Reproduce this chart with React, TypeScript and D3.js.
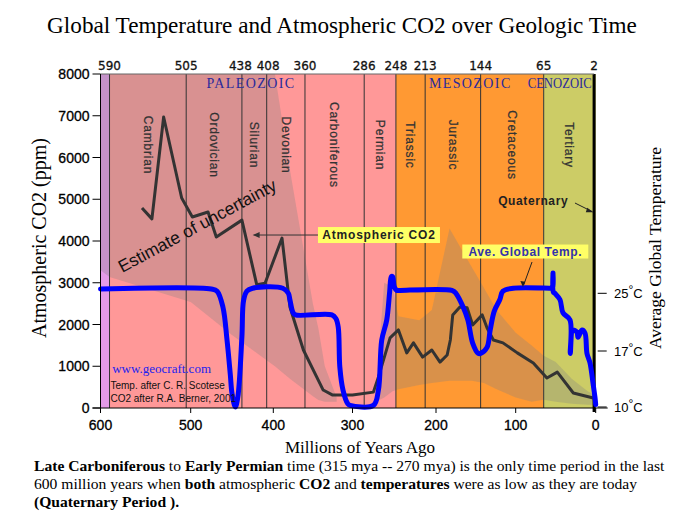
import React from 'react';
import * as d3 from 'd3';

const W = 700;
const H = 521;

// ---------- data ----------
const xTickValues = [600, 500, 400, 300, 200, 100, 0];
const co2TickValues = [0, 1000, 2000, 3000, 4000, 5000, 6000, 7000, 8000];
const tempTickValues = [10, 17, 25];

const topBoundaryLabels = [590, 505, 438, 408, 360, 286, 248, 213, 144, 65, 2];
const periodBoundaries = [590, 505, 438, 408, 360, 286, 248, 213, 144, 65];
const periodNames = ['Cambrian', 'Ordovician', 'Silurian', 'Devonian', 'Carboniferous', 'Permian', 'Triassic', 'Jurassic', 'Cretaceous', 'Tertiary'];
const periodStart = [590, 505, 438, 408, 360, 286, 248, 213, 144, 65];
const periodEnd = [505, 438, 408, 360, 286, 248, 213, 144, 65, 2];

const eraNames = ['PALEOZOIC', 'MESOZOIC', 'CENOZOIC'];
const eraLabelAges = [427, 157, 45];
const bgStart = [600, 590, 248, 65];
const bgEnd = [590, 248, 65, 0];
const bgColors = ['#e39ae8', '#ff9898', '#ff9933', '#cccc66'];

const co2Ages = [554, 543, 530, 510, 498, 479, 469, 438, 420, 410, 389, 379, 362, 337, 325, 300, 275, 269, 255, 245, 235, 227, 216, 205, 195, 186, 182, 179, 170, 161, 154, 142, 136, 128, 116, 98, 78, 61, 48, 28, 3, 0];
const co2Values = [4790, 4530, 6970, 5030, 4575, 4695, 4095, 4500, 2950, 2990, 4070, 2420, 1390, 430, 310, 310, 380, 740, 1680, 1870, 1320, 1560, 1220, 1390, 1100, 1270, 1630, 2230, 2420, 2400, 1990, 2230, 1920, 1630, 1560, 1320, 1080, 720, 860, 360, 240, 240];

const tempAges = [600, 475, 468, 461, 456, 452, 450, 446, 443, 438, 436, 432, 425, 388, 381, 379, 375, 372, 326, 321, 318, 316, 312, 306, 303, 275, 269, 265, 259, 255.5, 253.5, 252, 250, 247, 243, 180, 175, 166, 160, 154, 147, 144, 136, 132, 127, 120, 116, 103, 57, 54, 53.4, 53, 51, 44.6, 40.9, 32.1, 31.8, 28.4, 23.4, 22.1, 17.1, 13.4, 10.9, 7.1, 3.4, 0.9, 0];
const tempValues = [25.6, 25.6, 25.3, 23.1, 18.5, 14, 11.7, 10, 11.2, 19, 24, 25.3, 25.7, 25.7, 25, 24.1, 22.3, 22.0, 22.0, 21.5, 20.3, 15, 12.1, 10.4, 10.2, 10.2, 12.1, 18.5, 21.3, 25.2, 27.3, 27.3, 25.9, 25.4, 25.4, 25.4, 25.0, 23.1, 21.3, 18.1, 16.7, 16.7, 17.5, 19.9, 22.5, 24.1, 25.3, 25.7, 25.7, 25.7, 27.8, 25.2, 25.0, 24.1, 22.3, 21.3, 16.7, 19.9, 19.6, 18.9, 19.9, 19.5, 16.7, 15.5, 13.0, 11.2, 10.3];

const paleoBandAges = [600, 590, 500, 450, 398, 379, 350, 343, 335, 320];
const paleoBandUpper = [8000, 8000, 8000, 8000, 8000, 5700, 2500, 1900, 1000, 250];
const paleoBandLower = [3300, 3140, 2540, 1750, 1000, 700, 280, 190, 150, 150];

const mesoBandAges = [272, 262, 252, 245, 220, 205, 183, 155, 140, 124, 100, 80, 65, 50, 30, 10, 0];
const mesoBandUpper = [400, 3000, 2900, 2200, 2100, 2350, 4300, 3370, 2880, 2350, 1800, 1500, 1250, 1100, 700, 400, 300];
const mesoBandLower = [150, 250, 400, 450, 550, 600, 650, 650, 600, 450, 250, 150, 200, 150, 100, 80, 80];

const titleText = 'Global Temperature and Atmospheric CO2 over Geologic Time';

// ---------- scales ----------
const x = d3.scaleLinear().domain(xTickValues).range([100.5, 190.7, 273.3, 352.5, 436, 515.7, 595.7]);
const y = d3.scaleLinear().domain([0, 8000]).range([408, 74]);
const yT = d3.scaleLinear().domain(tempTickValues).range([407, 351, 293.3]);

const SANS = 'Liberation Sans, Arial, sans-serif';
const SERIF = 'Liberation Serif, Times New Roman, serif';
const DV = 'DejaVu Sans, Verdana, sans-serif';

export default function App() {
  const co2Line = d3.line<number>().x((_, i) => x(co2Ages[i])).y((_, i) => y(co2Values[i]))(co2Ages) || '';
  const tempLine = d3
    .line<number>()
    .x((_, i) => x(tempAges[i]))
    .y((_, i) => yT(tempValues[i]))
    .curve(d3.curveCatmullRom.alpha(0.5))(tempAges) || '';
  const paleoArea = d3
    .area<number>()
    .x((_, i) => x(paleoBandAges[i]))
    .y0((_, i) => y(paleoBandLower[i]))
    .y1((_, i) => y(paleoBandUpper[i]))(paleoBandAges) || '';
  const mesoArea = d3
    .area<number>()
    .x((_, i) => x(mesoBandAges[i]))
    .y0((_, i) => y(mesoBandLower[i]))
    .y1((_, i) => y(mesoBandUpper[i]))(mesoBandAges) || '';

  const top = y(8000);
  const bottom = y(0);

  const co2LabX = x(343.6), co2LabY = y(4143), co2TipX = x(425);
  const tmpLabX = x(167), tmpLabY = y(3748);

  return (
    <svg width={W} height={H} style={{ position: 'absolute', left: 0, top: 0, background: '#fff' }}>
      <text x={342} y={33} textAnchor="middle" fontFamily={SERIF} fontSize={23.2} fill="#000">{titleText}</text>

      {bgStart.map((s, i) => (
        <rect key={'bg' + i} x={x(s)} y={top} width={x(bgEnd[i]) - x(s)} height={bottom - top} fill={bgColors[i]} />
      ))}
      <path d={paleoArea} fill="#808080" fillOpacity={0.3} />
      <path d={mesoArea} fill="#808080" fillOpacity={0.3} />

      {periodBoundaries.map((b) => (
        <line key={'pl' + b} x1={x(b)} x2={x(b)} y1={top} y2={bottom} stroke="#333" strokeWidth={1} />
      ))}
      <line x1={x(2)} x2={x(2)} y1={top} y2={bottom + 4} stroke="#000" strokeWidth={3} />
      <line x1={x(600)} x2={x(2)} y1={top} y2={top} stroke="#666" strokeWidth={1} />

      {topBoundaryLabels.map((b) => (
        <text key={'tl' + b} x={x(b) + (b === 438 ? -1.5 : b === 408 ? 1.5 : 0)} y={70} textAnchor="middle" fontFamily={DV} fontSize={12} stroke="#111" strokeWidth={0.3} fill="#111">{b}</text>
      ))}
      {eraNames.map((n, i) => (
        <text key={n} x={x(eraLabelAges[i])} y={88} textAnchor="middle" fontFamily={SERIF} fontSize={14} letterSpacing={i === 2 ? 0 : 1.4} fill="#2a2a9c"
          {...(i === 2 ? { textLength: 64, lengthAdjust: 'spacingAndGlyphs' } : {})}>{n}</text>
      ))}
      {periodNames.map((n, i) => {
        const cx = (x(periodStart[i]) + x(periodEnd[i])) / 2;
        return (
          <text key={n} transform={`translate(${cx},145) rotate(90)`} textAnchor="middle" dy="0.35em" fontFamily={SANS} fontSize={12} letterSpacing={0.8} stroke="#333" strokeWidth={0.25} fill="#333">{n}</text>
        );
      })}

      <path d={co2Line} fill="none" stroke="#333" strokeWidth={3} strokeLinejoin="round" />
      <path d={tempLine} fill="none" stroke="#0000ff" strokeWidth={5} strokeLinejoin="round" strokeLinecap="round" />

      <line x1={x(600)} x2={x(600)} y1={top} y2={bottom + 5} stroke="#000" />
      {co2TickValues.map((v) => (
        <g key={'ct' + v}>
          <line x1={x(600) - 8} x2={x(600)} y1={y(v)} y2={y(v)} stroke="#000" />
          <text x={x(600) - 11} y={y(v)} dy="0.36em" textAnchor="end" fontFamily={SANS} fontSize={14} stroke="#000" strokeWidth={0.3} fill="#000">{v}</text>
        </g>
      ))}
      <line x1={x(600) - 8} x2={x(0) + 12} y1={bottom} y2={bottom} stroke="#000" />
      {xTickValues.map((v) => (
        <g key={'xt' + v}>
          <line x1={x(v)} x2={x(v)} y1={bottom} y2={bottom + 5} stroke="#000" />
          <text x={x(v)} y={430} textAnchor="middle" fontFamily={SANS} fontSize={14} stroke="#000" strokeWidth={0.3} fill="#000">{v}</text>
        </g>
      ))}
      {tempTickValues.map((v) => (
        <g key={'tt' + v}>
          <line x1={x(0) + 2} x2={x(0) + 11} y1={yT(v)} y2={yT(v)} stroke="#000" />
          <text x={614} y={yT(v)} dy="0.38em" fontFamily={SANS} fontSize={13} fill="#000">
            {v}<tspan dy="-4" fontSize={12}>°</tspan><tspan dy="4">C</tspan>
          </text>
        </g>
      ))}

      <text transform="translate(46,238) rotate(-90)" textAnchor="middle" fontFamily={SERIF} fontSize={20} fill="#000">Atmospheric CO2 (ppm)</text>
      <text transform="translate(661,248) rotate(-90)" textAnchor="middle" fontFamily={SERIF} fontSize={17.5} fill="#000">Average Global Temperature</text>
      <text x={360} y={453} textAnchor="middle" fontFamily={SERIF} fontSize={17} fill="#000">Millions of Years Ago</text>

      <text transform={`translate(${x(576)},${y(3233)}) rotate(-28.3)`} fontFamily={SANS} fontSize={17.4} fill="#111">Estimate of uncertainty</text>

      <line x1={co2LabX} x2={co2TipX + 6} y1={co2LabY} y2={co2LabY} stroke="#333" strokeWidth={1} />
      <path d={`M${co2TipX},${co2LabY} l7,-3 l0,6 z`} fill="#333" />
      <rect x={co2LabX} y={co2LabY - 8} width={122} height={16} fill="#ffff66" />
      <text x={co2LabX + 61} y={co2LabY} dy="0.36em" textAnchor="middle" fontFamily={SANS} fontWeight="bold" fontSize={12} letterSpacing={0.8} fill="#222">Atmospheric CO2</text>

      <rect x={tmpLabX} y={tmpLabY - 7} width={126} height={14} fill="#ffff66" />
      <text x={tmpLabX + 63} y={tmpLabY} dy="0.36em" textAnchor="middle" fontFamily={SANS} fontWeight="bold" fontSize={12} letterSpacing={0.6} fill="#3333aa">Ave. Global Temp.</text>
      <line x1={x(79.6)} y1={y(3497)} x2={x(90)} y2={y(2950)} stroke="#222" strokeWidth={1} />
      <path d={`M${x(91)},${y(2898)} l-2.5,-6 l5,0.8 z`} fill="#222" />

      <text x={x(122)} y={y(4862)} fontFamily={SANS} fontWeight="bold" fontSize={12} letterSpacing={0.6} fill="#222">Quaternary</text>
      <line x1={x(25.9)} y1={y(4910)} x2={x(4)} y2={y(4700)} stroke="#222" strokeWidth={1} />
      <path d={`M${x(3)},${y(4690)} l-6,-4.5 l-1.5,4.5 z`} fill="#222" />

      <text x={x(587)} y={y(838)} fontFamily={SERIF} fontSize={13} fill="#2222ee">www.geocraft.com</text>
      <text x={x(589)} y={y(455)} fontFamily={SANS} fontSize={10} fill="#111">Temp. after C. R. Scotese</text>
      <text x={x(589)} y={y(144)} fontFamily={SANS} fontSize={10} fill="#111">CO2 after R.A. Berner, 2001</text>

      <g fontFamily={SERIF} fontSize={15.6} fill="#000">
        <text x={34} y={471}>
          <tspan fontWeight="bold">Late Carboniferous</tspan> to <tspan fontWeight="bold">Early Permian</tspan> time (315 mya -- 270 mya) is the only time period in the last
        </text>
        <text x={34} y={489}>
          600 million years when <tspan fontWeight="bold">both</tspan> atmospheric <tspan fontWeight="bold">CO2</tspan> and <tspan fontWeight="bold">temperatures</tspan> were as low as they are today
        </text>
        <text x={34} y={507} fontWeight="bold">(Quaternary Period ).</text>
      </g>
    </svg>
  );
}
